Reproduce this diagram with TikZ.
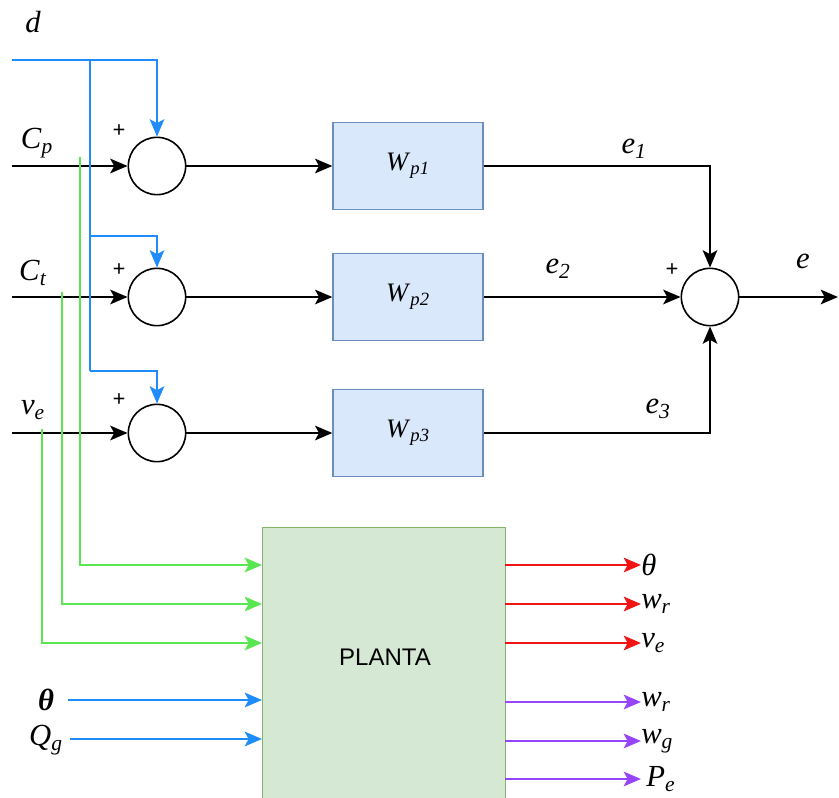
\documentclass[tikz,border=0pt]{standalone}
\usepackage{fontspec}
\setmainfont{Liberation Serif}
\setsansfont{Liberation Sans}
\usetikzlibrary{arrows.meta}
\definecolor{bl}{RGB}{30,140,250}
\definecolor{gr}{RGB}{90,230,80}
\definecolor{rd}{RGB}{240,20,20}
\definecolor{pu}{RGB}{150,70,250}
\definecolor{boxf}{RGB}{218,232,252}
\definecolor{boxb}{RGB}{108,142,191}
\definecolor{plf}{RGB}{213,232,212}
\definecolor{plb}{RGB}{130,179,102}
\newcommand{\sbs}[2]{\textit{#1}\textsubscript{\textit{#2}}}
\begin{document}
\begin{tikzpicture}[x=0.75pt,y=-0.75pt,
  sumnode/.style={circle,draw,line width=1.2pt,minimum size=43pt,inner sep=0pt,fill=white},
  wbox/.style={draw=boxb,fill=boxf,line width=1pt,minimum width=112.5pt,minimum height=65pt,font=\fontsize{20}{20}\selectfont},
  lbl/.style={font=\fontsize{23}{23}\selectfont,inner sep=0pt},
  plus/.style={font=\bfseries\fontsize{17}{17}\selectfont,inner sep=0pt},
  sig/.style={line width=1.3pt,-{Stealth[length=13pt,width=11pt,inset=3pt]}},
  bsig/.style={sig,draw=bl},
  gsig/.style={sig,draw=gr},
  rsig/.style={sig,draw=rd},
  psig/.style={sig,draw=pu}]
\useasboundingbox (0,0) rectangle (839,798);

% summing junctions
\node[sumnode] (s1) at (157,166) {};
\node[sumnode] (s2) at (157,297) {};
\node[sumnode] (s3) at (157,433) {};
\node[sumnode] (S) at (710,297) {};

% weighting boxes
\node[wbox] (w1) at (408,166) {\sbs{W}{p1}};
\node[wbox] (w2) at (408,297) {\sbs{W}{p2}};
\node[wbox] (w3) at (408,433) {\sbs{W}{p3}};

% plant
\node[draw=plb,fill=plf,line width=1pt,minimum width=182pt,minimum height=206pt,anchor=north west] (P) at (262,527) {};
\node[font=\sffamily\fontsize{18}{18}\selectfont] (Ptxt) at (385,657) {PLANTA};

% labels
\node[lbl] (ld) at (33,22) {\textit{d}};
\node[lbl] (lcp) at (37,143) {\sbs{C}{p}};
\node[lbl] (lct) at (33,273) {\sbs{C}{t}};
\node[lbl] (lve) at (33,410) {\sbs{v}{e}};
\node[plus] (p1) at (119,131) {+};
\node[plus] (p2) at (119,270) {+};
\node[plus] (p3) at (119,400) {+};
\node[plus] (p4) at (672,270) {+};
\node[lbl] (le1) at (634,149) {\sbs{e}{1}};
\node[lbl] (le2) at (558,269) {\sbs{e}{2}};
\node[lbl] (le3) at (658,409) {\sbs{e}{3}};
\node[lbl] (le) at (803,261) {\textit{e}};
\node[lbl] (lth) at (46,700) {\textbf{\textit{θ}}};
\node[lbl] (lqg) at (46,740) {\sbs{Q}{g}};

% coordinates
\coordinate (cp0) at (12,166);
\coordinate (ct0) at (12,297);
\coordinate (ve0) at (12,433);
\coordinate (d0) at (12,60);
\coordinate (d1) at (157,60);
\coordinate (dv0) at (90,60);
\coordinate (dv1) at (90,236);
\coordinate (dv2) at (90,371);
\coordinate (b2) at (157,236);
\coordinate (b3) at (157,371);
\coordinate (eout) at (838,297);

% inputs to sums
\draw[sig] (cp0) -- (s1);
\draw[sig] (ct0) -- (s2);
\draw[sig] (ve0) -- (s3);

% disturbance
\draw[bsig] (d0) -- (d1) -- (s1);
\draw[line width=1.3pt,bl] (dv0) -- (dv2);
\draw[bsig] (dv1) -- (b2) -- (s2);
\draw[bsig] (dv2) -- (b3) -- (s3);

% sums to boxes
\draw[sig] (s1) -- (w1);
\draw[sig] (s2) -- (w2);
\draw[sig] (s3) -- (w3);

% boxes to sum
\draw[sig] (w1.east) -- (w1.east -| S) -- (S);
\draw[sig] (w2) -- (S);
\draw[sig] (w3.east) -- (w3.east -| S) -- (S);
\draw[sig] (S) -- (eout);

% green inputs to plant
\coordinate (g1) at (80,157);
\coordinate (g2) at (62,292);
\coordinate (g3) at (42,429);
\coordinate (g1b) at (80,565);
\coordinate (g2b) at (62,604);
\coordinate (g3b) at (42,643);
\coordinate (pi1) at (262,565);
\coordinate (pi2) at (262,604);
\coordinate (pi3) at (262,643);
\draw[gsig] (g1) -- (g1b) -- (pi1);
\draw[gsig] (g2) -- (g2b) -- (pi2);
\draw[gsig] (g3) -- (g3b) -- (pi3);

% blue inputs
\coordinate (pi4) at (262,700);
\coordinate (pi5) at (262,739);
\coordinate (th0) at (68,700);
\coordinate (qg0) at (70,739);
\draw[bsig] (th0) -- (pi4);
\draw[bsig] (qg0) -- (pi5);

% outputs
\foreach \y/\n/\t in {565/o1/{\textit{θ}},604/o2/{\sbs{w}{r}},643/o3/{\sbs{v}{e}}}{
  \coordinate (\n s) at (505,\y);
  \node[lbl,anchor=west] (\n) at (641,\y) {\t};
  \draw[rsig] (\n s) -- (\n.west);
}
\foreach \y/\n/\t in {702/o4/{\sbs{w}{r}},741/o5/{\sbs{w}{g}},779/o6/{\,\sbs{P}{e}}}{
  \coordinate (\n s) at (505,\y);
  \node[lbl,anchor=west] (\n) at (641,\y) {\t};
  \draw[psig] (\n s) -- (\n.west);
}
\end{tikzpicture}
\end{document}
